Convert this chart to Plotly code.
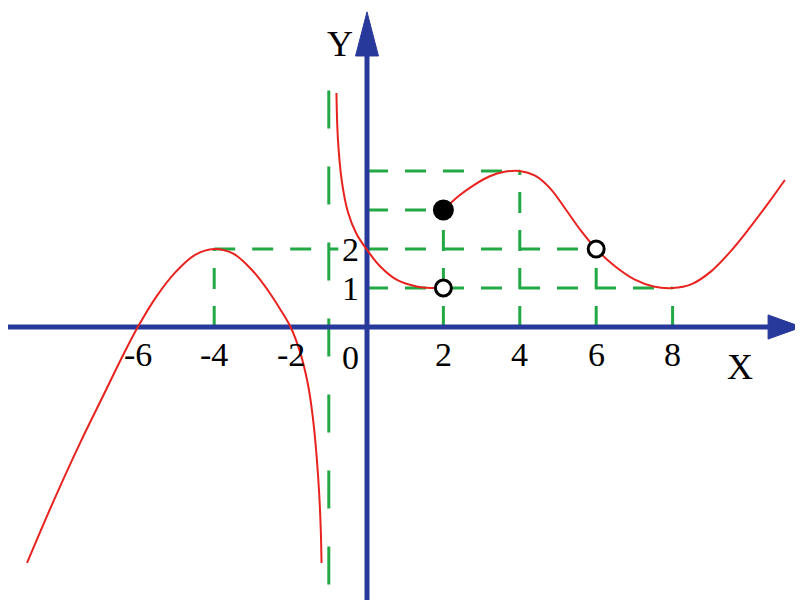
import plotly.graph_objects as go

# ---- data (math coordinates) ----
LEFT_X = [-8.9, -8.2, -7.5, -6.9, -6.4, -6.0, -5.5, -5.0, -4.5, -4.0, -3.5, -3.0, -2.6, -2.3, -2.0, -1.75, -1.55, -1.42, -1.32, -1.25, -1.21, -1.19]
LEFT_Y = [-6.05, -4.45, -2.95, -1.75, -0.75, 0.0, 0.8, 1.42, 1.85, 2.0, 1.88, 1.45, 0.95, 0.5, 0.0, -0.65, -1.45, -2.3, -3.3, -4.3, -5.2, -6.05]

MID_X = [-0.80, -0.76, -0.66, -0.5, -0.28, 0.0, 0.34, 0.8, 1.3, 1.7, 2.0]
MID_Y = [6.0, 4.8, 3.75, 2.95, 2.4, 1.98, 1.56, 1.2, 1.04, 1.0, 1.0]

RIGHT_X = [2.0, 2.4, 2.8, 3.2, 3.6, 4.0, 4.4, 4.8, 5.2, 5.6, 6.0, 6.5, 7.0, 7.5, 8.0, 8.5, 9.0, 9.5, 10.0, 10.5, 10.94]
RIGHT_Y = [3.0, 3.36, 3.64, 3.86, 3.98, 4.0, 3.88, 3.55, 3.02, 2.47, 2.0, 1.55, 1.22, 1.04, 1.0, 1.1, 1.42, 1.92, 2.52, 3.17, 3.77]

FILLED_PTS_X = [2]
FILLED_PTS_Y = [3]
OPEN_PTS_X = [2, 6]
OPEN_PTS_Y = [1, 2]

# guide lines: (y, x_from, x_to) and (x, y_from, y_to)
GUIDE_H = [(2, -4, -0.75), (2, 0, 6), (1, 0, 8), (3, 0, 2), (4, 0, 4)]
GUIDE_V = [(-4, 0, 2), (2, 0, 3), (4, 0, 4), (6, 0, 2), (8, 0, 1)]
ASYMPTOTE_X = -1
ASYMPTOTE_SPAN = (-6.6, 6.45)

X_TICKS = [-6, -4, -2, 2, 4, 6, 8]
Y_TICKS = [1, 2]

# ---- view / styling ----
X_RANGE = [-9.398, 11.414]
Y_RANGE = [-7.128, 8.18]
X_AXIS = (-9.4, 10.5, 11.38)   # start, arrow base, tip
Y_AXIS = (-7.0, 6.95, 8.08)
AXIS_COLOR = "#28399c"
GREEN = "#22a845"
RED = "#e8231f"
FONT = "Liberation Serif, Times New Roman, serif"

fig = go.Figure()

def dashed(xs, ys, dash):
    fig.add_trace(go.Scatter(x=xs, y=ys, mode="lines",
                             line=dict(color=GREEN, width=3, dash=dash),
                             hoverinfo="skip", showlegend=False))

for y, x0, x1 in GUIDE_H:
    dashed([x0, x1], [y, y], "21px,17px")
for x, y0, y1 in GUIDE_V:
    dashed([x, x], [y0, y1], "21px,17px")
dashed([ASYMPTOTE_X, ASYMPTOTE_X], list(ASYMPTOTE_SPAN), "38px,38px")

# axes with arrows
fig.add_trace(go.Scatter(x=[X_AXIS[0], X_AXIS[1]], y=[0, 0], mode="lines",
                         line=dict(color=AXIS_COLOR, width=5), hoverinfo="skip", showlegend=False))
fig.add_trace(go.Scatter(x=[0, 0], y=[Y_AXIS[0], Y_AXIS[1]], mode="lines",
                         line=dict(color=AXIS_COLOR, width=5), hoverinfo="skip", showlegend=False))
ah = 0.31
aw = 0.30
fig.add_trace(go.Scatter(x=[X_AXIS[1], X_AXIS[2], X_AXIS[1], X_AXIS[1]], y=[ah, 0, -ah, ah],
                         mode="lines", fill="toself", fillcolor=AXIS_COLOR,
                         line=dict(color=AXIS_COLOR, width=1), hoverinfo="skip", showlegend=False))
fig.add_trace(go.Scatter(x=[-aw, 0, aw, -aw], y=[Y_AXIS[1], Y_AXIS[2], Y_AXIS[1], Y_AXIS[1]],
                         mode="lines", fill="toself", fillcolor=AXIS_COLOR,
                         line=dict(color=AXIS_COLOR, width=1), hoverinfo="skip", showlegend=False))

# curves
for xs, ys in [(LEFT_X, LEFT_Y), (MID_X, MID_Y), (RIGHT_X, RIGHT_Y)]:
    fig.add_trace(go.Scatter(x=xs, y=ys, mode="lines",
                             line=dict(color=RED, width=2, shape="spline", smoothing=1.0),
                             hoverinfo="skip", showlegend=False))

fig.add_trace(go.Scatter(x=OPEN_PTS_X, y=OPEN_PTS_Y, mode="markers",
                         marker=dict(size=16, color="white", line=dict(color="black", width=3)),
                         hoverinfo="skip", showlegend=False))
fig.add_trace(go.Scatter(x=FILLED_PTS_X, y=FILLED_PTS_Y, mode="markers",
                         marker=dict(size=21, color="black"),
                         hoverinfo="skip", showlegend=False))

ann = []
for t in X_TICKS:
    ann.append(dict(x=t, y=-0.7, text=str(t), showarrow=False,
                    font=dict(family=FONT, size=34, color="black"),
                    xanchor="center", yanchor="middle"))
for t in Y_TICKS:
    ann.append(dict(x=-0.445, y=t, text=str(t), showarrow=False,
                    font=dict(family=FONT, size=34, color="black"),
                    xanchor="center", yanchor="middle"))
ann.append(dict(x=-0.445, y=-0.77, text="0", showarrow=False,
                font=dict(family=FONT, size=34, color="black"), xanchor="center", yanchor="middle"))
ann.append(dict(x=9.76, y=-1.03, text="X", showarrow=False,
                font=dict(family=FONT, size=36, color="black"), xanchor="center", yanchor="middle"))
ann.append(dict(x=-0.71, y=7.26, text="Y", showarrow=False,
                font=dict(family=FONT, size=36, color="black"), xanchor="center", yanchor="middle"))

fig.update_layout(
    width=795, height=597,
    margin=dict(l=0, r=0, t=0, b=0),
    paper_bgcolor="white", plot_bgcolor="white",
    xaxis=dict(range=X_RANGE, visible=False, fixedrange=True),
    yaxis=dict(range=Y_RANGE, visible=False, fixedrange=True),
    annotations=ann,
    showlegend=False,
)

fig.write_html("out.html")
